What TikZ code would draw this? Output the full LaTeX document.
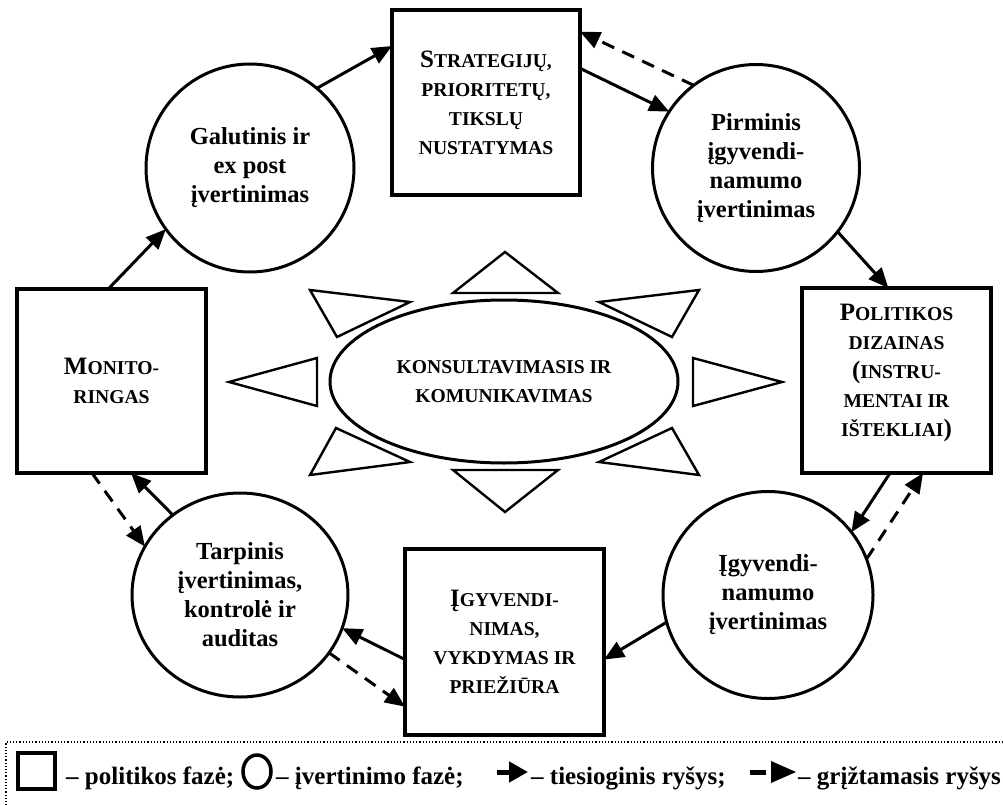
\documentclass[tikz,border=0pt]{standalone}
\usepackage{fontspec}
\setmainfont{Liberation Serif}
\usetikzlibrary{arrows.meta,shapes.geometric,calc}
\newcommand\Ini[1]{{\fontsize{25}{29}\selectfont #1}}
\begin{document}
\begin{tikzpicture}[x=1pt,y=-1pt,
  phase/.style={draw, line width=3.5pt, rectangle, inner sep=0pt, outer sep=0pt, align=center,
    font=\bfseries\fontsize{19.6}{29}\selectfont},
  evalc/.style={draw, line width=3pt, ellipse, inner sep=0pt, outer sep=0pt, align=center,
    font=\bfseries\fontsize{24.5}{29}\selectfont},
  flow/.style={line width=3pt, -{Triangle[length=20pt,width=17pt]}},
  back/.style={flow, dash pattern=on 13pt off 9pt},
  ray/.style={draw, line width=2.4pt, line join=miter, fill=white},
  legtext/.style={anchor=base west, inner sep=0pt, font=\bfseries\fontsize{25}{29}\selectfont}
]
\useasboundingbox (0,0) rectangle (1003,805);

% phases (boxes)
\node[phase, minimum width=188pt, minimum height=185pt] (top) at (486,102.5)
  {\Ini{S}TRATEGIJŲ,\\PRIORITETŲ,\\TIKSLŲ\\NUSTATYMAS};
\node[phase, minimum width=189pt, minimum height=185pt] (pol) at (896.5,380.5)
  {\Ini{P}OLITIKOS\\DIZAINAS\\\Ini{(}INSTRU-\\MENTAI IR\\IŠTEKLIAI\Ini{)}\\[-8pt]\mbox{}};
\node[phase, minimum width=199pt, minimum height=186pt] (bot) at (504.5,642)
  {\Ini{Į}GYVENDI-\\NIMAS,\\VYKDYMAS IR\\PRIEŽIŪRA};
\node[phase, minimum width=189pt, minimum height=184pt] (mon) at (111.5,381)
  {\Ini{M}ONITO-\\RINGAS};

% evaluation phases (circles)
\node[evalc, minimum width=208pt, minimum height=208pt] (gal) at (250,168)
  {Galutinis ir\\ex post\\įvertinimas};
\node[evalc, minimum width=207pt, minimum height=207pt] (pirm) at (756,168)
  {Pirminis\\įgyvendi-\\namumo\\įvertinimas};
\node[evalc, minimum width=216pt, minimum height=204pt] (tarp) at (240,595)
  {Tarpinis\\įvertinimas,\\kontrolė ir\\auditas};
\node[evalc, minimum width=210pt, minimum height=207pt] (igyv) at (768,595)
  {Įgyvendi-\\namumo\\įvertinimas};

% centre
\node[draw, ellipse, line width=3pt, inner sep=0pt, outer sep=0pt, align=center,
  minimum width=348pt, minimum height=163pt,
  font=\bfseries\fontsize{19.6}{29}\selectfont] (kons) at (504,381.5)
  {KONSULTAVIMASIS IR\\KOMUNIKAVIMAS};

% rays
\draw[ray] (453,293) -- (505,252) -- (558,293) -- cycle;
\draw[ray] (453,470) -- (558,470) -- (505,512) -- cycle;
\draw[ray] (317,358) -- (229,382) -- (317,406) -- cycle;
\draw[ray] (693,358) -- (782,382) -- (693,406) -- cycle;
\draw[ray] (310,290) -- (410,302) -- (337,337) -- cycle;
\draw[ray] (699,290) -- (599,302) -- (672,337) -- cycle;
\draw[ray] (336,428) -- (410,462) -- (310,475) -- cycle;
\draw[ray] (672,428) -- (599,462) -- (699,475) -- cycle;

% connectors
\draw[flow] (gal.50) -- (top.149.4);
\draw[flow] (top.20.7) -- (pirm.147.8);
\draw[back] (pirm.127.2) -- (top.37.6);
\draw[flow] (pirm.322.3) -- (pol.95.2);
\draw[flow] (pol.266) -- (igyv.37.6);
\draw[back] (igyv.20.3) -- (pol.286);
\draw[flow] (igyv.195.5) -- (bot.350.9);
\draw[flow] (bot.190.3) -- (tarp.342.4);
\draw[back] (tarp.327.8) -- (bot.213.6);
\draw[flow] (tarp.130.9) -- (mon.282.6);
\draw[back] (mon.258.6) -- (tarp.153.9);
\draw[flow] (mon.92.8) -- (gal.216);

% legend
\draw[dotted, line width=1.2pt] (1003,742) -- (6,742) -- (6,805);
\node[draw, line width=3.5pt, minimum width=37pt, minimum height=36pt, inner sep=0pt, outer sep=0pt] (lgsq) at (36.5,771) {};
\node[legtext] (lt1) at (66,784) {– politikos fazė;};
\node[draw, ellipse, line width=3.5pt, minimum width=28pt, minimum height=33pt, inner sep=0pt, outer sep=0pt] (lgci) at (257,771.5) {};
\node[legtext] (lt2) at (276,784) {– įvertinimo fazė;};
\coordinate (lga1) at (497,772);
\coordinate (lga2) at (528,772);
\draw[line width=5pt, -{Triangle[length=19pt,width=20pt]}] (lga1) -- (lga2);
\node[legtext] (lt3) at (531,784) {– tiesioginis ryšys;};
\coordinate (lgb1) at (750,772);
\coordinate (lgb2) at (766,772);
\draw[line width=5pt] (lgb1) -- (lgb2);
\fill (771,761) -- (796,772) -- (771,783) -- cycle;
\node[legtext] (lt4) at (798,784) {– grįžtamasis ryšys};
\end{tikzpicture}
\end{document}
